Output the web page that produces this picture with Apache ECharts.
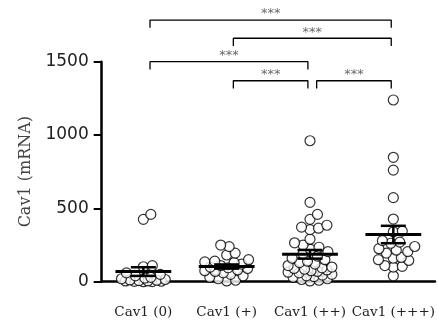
<!DOCTYPE html>
<html><head><meta charset="utf-8">
<script src="https://cdn.jsdelivr.net/npm/echarts@6/dist/echarts.min.js"></script>
<style>html,body{margin:0;padding:0;background:#fff}#c{width:438px;height:322px}</style>
</head><body><div id="c"></div>
<script>
// ---------------- data ----------------
const categories = ['Cav1 (0)', 'Cav1 (+)', 'Cav1 (++)', 'Cav1 (+++)'];
const cav1_0 = [459, 425, 109, 102, 60, 50, 40, 30, 25, 20, 15, 12, 10, 8, 5, 5, 3, 2, 1, 0];
const cav1_1 = [250, 239, 195, 182, 150, 140, 135, 130, 120, 110, 100, 95, 90, 80, 75, 70, 60, 50, 40, 30, 20, 10, 5];
const cav1_2 = [961, 541, 459, 425, 385, 372, 365, 355, 290, 265, 250, 235, 220, 205, 190, 175, 160, 150, 140, 130, 120, 110, 100, 95, 90, 85, 80, 75, 70, 65, 60, 50, 45, 40, 35, 30, 20, 15, 10, 5];
const cav1_3 = [1239, 848, 761, 573, 427, 345, 340, 280, 270, 262, 240, 225, 215, 205, 195, 165, 160, 150, 145, 110, 105, 100, 40];
const yTicks = [0, 500, 1000, 1500];
const comparisons = [[1, 4], [2, 4], [1, 3], [2, 3], [3, 4]];
const compLabels = ['***', '***', '***', '***', '***'];

// ---------------- layout ----------------
const W = 438, H = 322;
const G = { left: 101.7, right: 1.3, top: 61.7, bottom: 40.3 };
const Y_MAX = 1500;
const BRACKET_LEVELS = [1784, 1660, 1500, 1370, 1370];
const BRACKET_DROP = 53;
const pxPerY = (H - G.top - G.bottom) / Y_MAX;
const pxPerX = (W - G.left - G.right) / 4;
const SYM = 10, MIN_D = 8.6, CAP = 22;

function swarm(vals, k) {
  const sorted = vals.slice().sort((a, b) => a - b);
  const placed = [];
  const out = [];
  for (const v of sorted) {
    const py = v * pxPerY;
    let best = null;
    let fallback = 0, fallbackD = -1;
    for (let s = 0; s <= CAP; s += 0.5) {
      for (const px of (s === 0 ? [0] : [s, -s])) {
        let md = 1e9;
        for (const p of placed) {
          const d = Math.hypot(p[0] - px, p[1] - py);
          if (d < md) md = d;
        }
        if (md >= MIN_D && best === null) { best = px; }
        if (md > fallbackD + 0.01) { fallbackD = md; fallback = px; }
      }
      if (best !== null) break;
    }
    const px = best !== null ? best : fallback;
    placed.push([px, py]);
    out.push([k + px / pxPerX, v]);
  }
  return out;
}
function stats(vals) {
  const n = vals.length;
  const m = vals.reduce((a, b) => a + b, 0) / n;
  const sd = Math.sqrt(vals.reduce((a, b) => a + (b - m) * (b - m), 0) / (n - 1));
  const se = sd / Math.sqrt(n);
  return [m, m - se, m + se];
}
const groups = [cav1_0, cav1_1, cav1_2, cav1_3];
const pts = [];
groups.forEach((g, i) => swarm(g, i + 1).forEach(p => pts.push(p)));
const bars = groups.map((g, i) => [i + 1].concat(stats(g)));

const labelPts = [];
const bracketSeries = comparisons.map((c, i) => {
  const a = c[0] + 0.08, b = c[1] - 0.025, L = BRACKET_LEVELS[i];
  labelPts.push({ value: [(a + b) / 2, L], name: compLabels[i] });
  return {
    type: 'line', clip: false, silent: true, symbol: 'none', z: 5,
    lineStyle: { color: '#000', width: 1.3 },
    data: [[a, L - BRACKET_DROP], [a, L], [b, L], [b, L - BRACKET_DROP]]
  };
});

const chart = echarts.init(document.getElementById('c'), null, { renderer: 'canvas' });
chart.setOption({
  animation: false,
  backgroundColor: '#fff',
  grid: { left: G.left, right: G.right, top: G.top, bottom: G.bottom, containLabel: false },
  xAxis: {
    type: 'value', min: 0.5, max: 4.5, interval: 0.5,
    axisLine: { show: true, onZero: false, lineStyle: { color: '#000', width: 2.5 } },
    axisTick: { show: false },
    splitLine: { show: false },
    axisLabel: {
      margin: 24, fontFamily: 'DejaVu Serif', fontSize: 13.5, color: '#222',
      formatter: v => (Math.abs(v - Math.round(v)) < 1e-6 && v >= 1 && v <= 4) ? categories[Math.round(v) - 1] : ''
    }
  },
  yAxis: {
    type: 'value', min: 0, max: Y_MAX, interval: 500,
    name: 'Cav1 (mRNA)', nameLocation: 'middle', nameGap: 68,
    nameTextStyle: { fontFamily: 'DejaVu Serif', fontSize: 16, color: '#444' },
    axisLine: { show: true, lineStyle: { color: '#000', width: 2.5 } },
    axisTick: { show: true, length: 8, lineStyle: { color: '#000', width: 2 } },
    splitLine: { show: false },
    axisLabel: { margin: 13, fontFamily: 'DejaVu Sans', fontSize: 17, color: '#222',
      formatter: v => yTicks.indexOf(v) >= 0 ? String(v) : '' }
  },
  series: [
    {
      type: 'scatter', data: pts, symbol: 'circle', symbolSize: SYM, clip: false, z: 2,
      itemStyle: { color: '#fff', borderColor: '#000', borderWidth: 1.2 }
    },
    {
      type: 'custom', data: bars, z: 3, clip: false,
      renderItem: function (params, api) {
        const k = api.value(0), m = api.value(1), lo = api.value(2), hi = api.value(3);
        const pm = api.coord([k, m]), pl = api.coord([k, lo]), ph = api.coord([k, hi]);
        const hw = api.size([0.335, 0])[0], cw = api.size([0.15, 0])[0];
        const st = { stroke: '#000', lineWidth: 2.5 };
        return { type: 'group', children: [
          { type: 'line', shape: { x1: pm[0] - hw, y1: pm[1], x2: pm[0] + hw, y2: pm[1] }, style: { stroke: '#000', lineWidth: 3 } },
          { type: 'line', shape: { x1: pl[0], y1: pl[1], x2: ph[0], y2: ph[1] }, style: st },
          { type: 'line', shape: { x1: pl[0] - cw, y1: pl[1], x2: pl[0] + cw, y2: pl[1] }, style: st },
          { type: 'line', shape: { x1: ph[0] - cw, y1: ph[1], x2: ph[0] + cw, y2: ph[1] }, style: st }
        ] };
      }
    },
    {
      type: 'scatter', data: labelPts, symbol: 'circle', symbolSize: 1, clip: false, silent: true, z: 6,
      itemStyle: { color: 'rgba(0,0,0,0)' },
      label: { show: true, position: 'top', distance: -1, formatter: p => p.name,
        fontFamily: 'DejaVu Sans', fontSize: 13, color: '#444' }
    }
  ].concat(bracketSeries)
});
</script>
</body></html>
